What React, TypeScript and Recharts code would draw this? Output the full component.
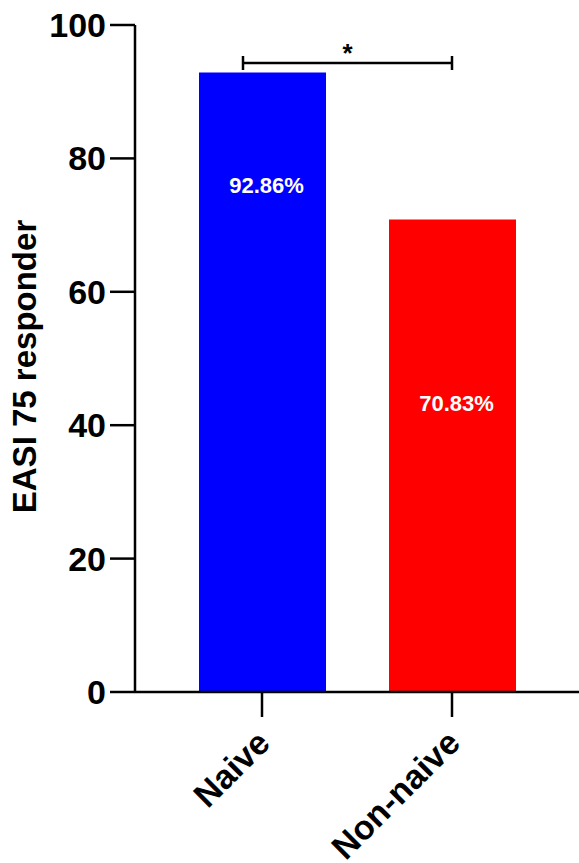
import { BarChart, Bar, XAxis, YAxis, Cell, LabelList, ReferenceLine } from 'recharts';

const categories = ['Naive', 'Non-naive'];
const responders = [92.86, 70.83];
const labelLevels = [75.9, 43.3]; // where the percentage text sits, in axis units
const barColors = ['#0000ff', '#ff0000'];
const yTicks = [0, 20, 40, 60, 80, 100];
const sigLevel = 94.3;
const sigMark = '*';

const data = categories.map((name, i) => ({ name, value: responders[i] }));

const FONT = '"Liberation Sans", Arial, Helvetica, sans-serif';

function XTick(props: any) {
  const { x, y, payload } = props;
  return (
    <g transform={`translate(${x},${y})`}>
      <text
        x={0}
        y={0}
        transform="translate(10,26) rotate(-45)"
        textAnchor="end"
        fontFamily={FONT}
        fontWeight="bold"
        fontSize={34}
        fill="#000"
      >
        {payload.value}
      </text>
    </g>
  );
}

function PctLabel(props: any) {
  const { x, y, width, height, index, value } = props;
  const ly = y + height * (1 - labelLevels[index] / value);
  return (
    <text
      x={x + width / 2 + 4}
      y={ly}
      textAnchor="middle"
      dominantBaseline="central"
      fontFamily={FONT}
      fontWeight="bold"
      fontSize={22}
      fill="#fff"
    >
      {value.toFixed(2)}%
    </text>
  );
}

function Bracket(props: any) {
  const { x1, y1, x2 } = props;
  const left = x1 - 19;
  return (
    <g stroke="#000" strokeWidth={2.5} fill="none">
      <line x1={left} y1={y1} x2={x2} y2={y1} />
      <line x1={left} y1={y1 - 7} x2={left} y2={y1 + 7} />
      <line x1={x2} y1={y1 - 7} x2={x2} y2={y1 + 7} />
      <text
        x={(left + x2) / 2}
        y={y1 - 1}
        textAnchor="middle"
        stroke="none"
        fill="#000"
        fontFamily={FONT}
        fontWeight="bold"
        fontSize={26}
      >
        {sigMark}
      </text>
    </g>
  );
}

function YLabel(props: any) {
  const { viewBox } = props;
  const cx = 24;
  const cy = viewBox.y + viewBox.height / 2 + 8;
  return (
    <text
      x={cx}
      y={cy}
      transform={`rotate(-90, ${cx}, ${cy})`}
      textAnchor="middle"
      dominantBaseline="central"
      fontFamily={FONT}
      fontWeight="bold"
      fontSize={33}
      fill="#000"
    >
      EASI 75 responder
    </text>
  );
}

export default function App() {
  return (
    <div style={{ position: 'absolute', left: 0, top: 0, background: '#fff' }}>
      <BarChart
        width={579}
        height={863}
        data={data}
        margin={{ top: 25, right: 0, bottom: 0, left: 0 }}
      >
        <YAxis
          width={135}
          domain={[0, 100]}
          ticks={yTicks}
          interval={0}
          tickSize={25}
          tickMargin={4}
          axisLine={{ stroke: '#000', strokeWidth: 2.5 }}
          tickLine={{ stroke: '#000', strokeWidth: 2.5 }}
          tick={{ fill: '#000', fontSize: 34, fontWeight: 'bold', fontFamily: FONT }}
          label={<YLabel />}
        />
        <XAxis
          dataKey="name"
          height={171}
          padding={{ left: 32, right: 32 }}
          tickSize={25}
          axisLine={{ stroke: '#000', strokeWidth: 2.5 }}
          tickLine={{ stroke: '#000', strokeWidth: 2.5 }}
          tick={<XTick />}
          interval={0}
        />
        <Bar dataKey="value" barSize={127} isAnimationActive={false}>
          {data.map((d, i) => (
            <Cell key={d.name} fill={barColors[i]} />
          ))}
          <LabelList dataKey="value" content={<PctLabel />} />
        </Bar>
        <ReferenceLine
          segment={[
            { x: categories[0], y: sigLevel },
            { x: categories[1], y: sigLevel },
          ]}
          shape={<Bracket />}
        />
      </BarChart>
    </div>
  );
}
